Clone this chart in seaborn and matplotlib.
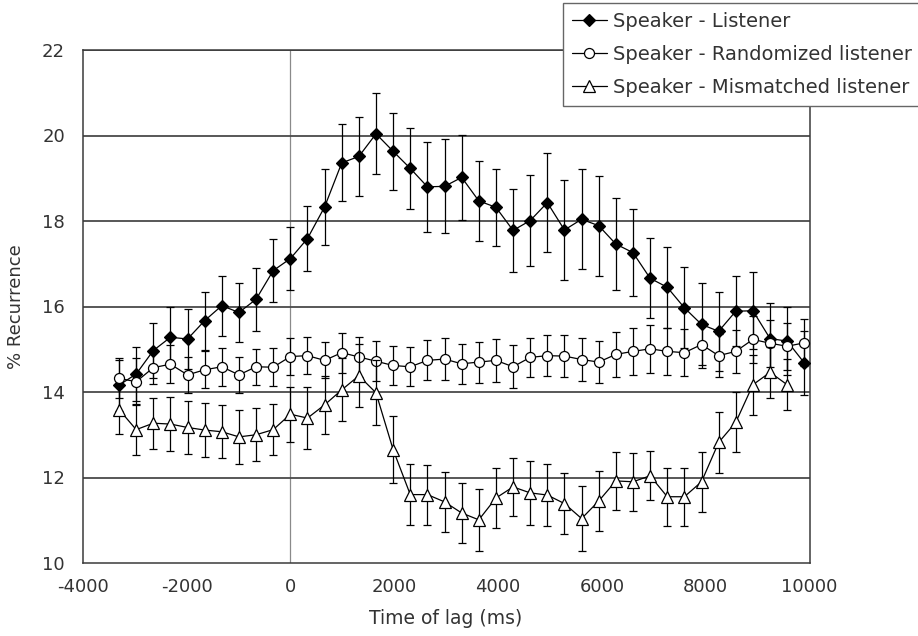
import numpy as np
import pandas as pd
import matplotlib
matplotlib.use("Agg")
import matplotlib.pyplot as plt
import seaborn as sns

# ---- data ----
lag_ms = [-3300 + 330 * k for k in range(41)]

listener = [14.16, 14.42, 14.97, 15.28, 15.24, 15.67, 16.02, 15.86, 16.17, 16.84,
            17.12, 17.59, 18.33, 19.36, 19.51, 20.04, 19.63, 19.23, 18.80, 18.81,
            19.02, 18.47, 18.32, 17.78, 18.01, 18.43, 17.79, 18.04, 17.89, 17.46,
            17.26, 16.66, 16.45, 15.97, 15.58, 15.42, 15.89, 15.90, 15.25, 15.19,
            14.68]
listener_err = [0.60, 0.63, 0.65, 0.70, 0.70, 0.68, 0.70, 0.70, 0.74, 0.74,
                0.74, 0.76, 0.88, 0.90, 0.92, 0.95, 0.90, 0.95, 1.05, 1.10,
                1.00, 0.93, 0.90, 0.97, 1.06, 1.15, 1.17, 1.17, 1.17, 1.08,
                1.02, 0.94, 0.95, 0.95, 0.96, 0.92, 0.82, 0.90, 0.83, 0.80,
                0.75]

randomized = [14.32, 14.24, 14.57, 14.65, 14.40, 14.52, 14.59, 14.40, 14.59, 14.58,
              14.83, 14.85, 14.74, 14.92, 14.82, 14.72, 14.62, 14.59, 14.74, 14.77,
              14.66, 14.70, 14.74, 14.59, 14.81, 14.85, 14.84, 14.76, 14.70, 14.88,
              14.95, 15.01, 14.95, 14.92, 15.11, 14.85, 14.95, 15.23, 15.14, 15.07,
              15.15]
randomized_err = [0.47, 0.55, 0.38, 0.45, 0.43, 0.43, 0.44, 0.42, 0.42, 0.45,
                  0.43, 0.43, 0.42, 0.47, 0.46, 0.47, 0.45, 0.46, 0.47, 0.50,
                  0.47, 0.48, 0.50, 0.50, 0.46, 0.48, 0.50, 0.50, 0.50, 0.52,
                  0.55, 0.56, 0.55, 0.55, 0.55, 0.50, 0.50, 0.55, 0.55, 0.55,
                  0.55]

mismatched = [13.59, 13.12, 13.27, 13.25, 13.17, 13.11, 13.07, 12.95, 13.00, 13.12,
              13.48, 13.39, 13.70, 14.05, 14.38, 13.98, 12.65, 11.60, 11.60, 11.43,
              11.17, 11.01, 11.52, 11.78, 11.64, 11.59, 11.39, 11.04, 11.45, 11.92,
              11.90, 12.04, 11.55, 11.55, 11.90, 12.82, 13.29, 14.17, 14.46, 14.17,
              np.nan]
mismatched_err = [0.57, 0.59, 0.60, 0.63, 0.63, 0.64, 0.62, 0.64, 0.62, 0.60,
                  0.64, 0.72, 0.68, 0.74, 0.74, 0.76, 0.79, 0.72, 0.70, 0.70,
                  0.70, 0.72, 0.70, 0.68, 0.74, 0.72, 0.72, 0.75, 0.70, 0.68,
                  0.68, 0.57, 0.68, 0.68, 0.70, 0.72, 0.70, 0.70, 0.60, 0.60,
                  np.nan]

series_names = ["Speaker - Listener", "Speaker - Randomized listener",
                "Speaker - Mismatched listener"]
x_ticks = [-4000, -2000, 0, 2000, 4000, 6000, 8000, 10000]
y_ticks = [10, 12, 14, 16, 18, 20, 22]

# ---- figure ----
sns.set_style("white")
plt.rcParams["font.family"] = ["DejaVu Sans"]
TEXT = "#333333"

fig = plt.figure(figsize=(9.18, 6.36), dpi=100)
ax = fig.add_axes([82.7 / 918, 1 - 563 / 636, (809.5 - 82.7) / 918, (563 - 50) / 636])

ax.axvline(0, color="#8a8a8a", lw=0.9, zorder=1)
for yv in y_ticks[1:]:
    ax.axhline(yv, color="#4a4a4a", lw=1.3, zorder=1)

styles = [
    dict(marker="D", markersize=5.8, markerfacecolor="black", markeredgecolor="black"),
    dict(marker="o", markersize=7.2, markerfacecolor="white", markeredgecolor="black"),
    dict(marker="^", markersize=8.0, markerfacecolor="white", markeredgecolor="black"),
]
values = [listener, randomized, mismatched]
errors = [listener_err, randomized_err, mismatched_err]

for i, (name, vals, errs, st) in enumerate(zip(series_names, values, errors, styles)):
    df = pd.DataFrame({"lag": lag_ms, "rec": vals}).dropna()
    ax.errorbar(lag_ms, vals, yerr=errs, fmt="none", ecolor="black", elinewidth=0.9,
                capsize=3.0, capthick=0.9, zorder=3 + 2 * i)
    sns.lineplot(data=df, x="lag", y="rec", ax=ax, color="black", linewidth=0.9,
                 markeredgewidth=0.9, label=name, zorder=4 + 2 * i, **st)

ax.set_xlim(-4000, 10000)
ax.set_ylim(10, 22)
ax.set_xticks(x_ticks)
ax.set_yticks(y_ticks)
ax.set_xticklabels([str(v) for v in x_ticks])
ax.set_yticklabels([str(v) for v in y_ticks])
ax.tick_params(axis="both", direction="out", width=1, color="#333333",
               labelsize=13, labelcolor=TEXT)
ax.tick_params(axis="x", length=3, pad=8)
ax.tick_params(axis="y", length=4.3, pad=8.4)
for s in ax.spines.values():
    s.set_color("#3a3a3a")
    s.set_linewidth(1.1)

ax.set_xlabel("Time of lag (ms)", fontsize=13.5, color=TEXT, labelpad=9)
ax.set_ylabel("% Recurrence", fontsize=13, color=TEXT, labelpad=12)

leg = ax.legend(loc="upper left", bbox_to_anchor=(563 / 918, 1 - 3 / 636),
                bbox_transform=fig.transFigure, borderaxespad=0, frameon=True,
                fancybox=False, fontsize=14, handlelength=1.8, handletextpad=0.3,
                labelspacing=0.72, borderpad=0.45)
leg.get_frame().set_edgecolor("#666666")
leg.get_frame().set_linewidth(1.0)
leg.get_frame().set_facecolor("white")
leg.get_frame().set_alpha(1)
for t in leg.get_texts():
    t.set_color(TEXT)

fig.savefig("out.png", dpi=100)
